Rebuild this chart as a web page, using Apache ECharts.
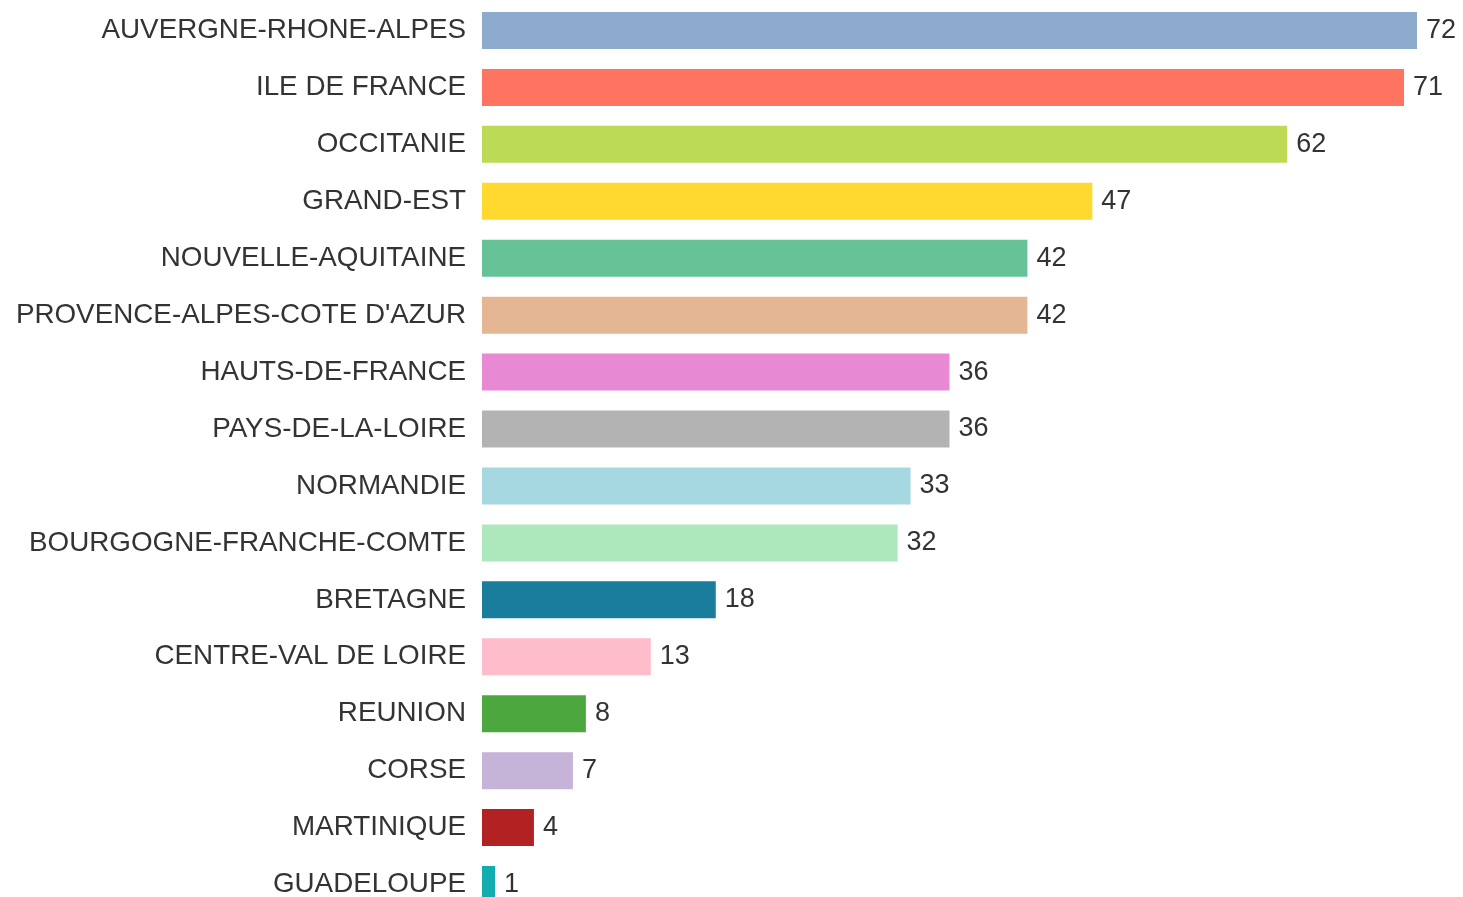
<!DOCTYPE html>
<html>
<head>
<meta charset="utf-8">
<script src="https://cdn.jsdelivr.net/npm/echarts@6/dist/echarts.min.js"></script>
<style>
  html, body { margin: 0; padding: 0; background: #fff; }
  #chart { width: 1463px; height: 897px; }
</style>
</head>
<body>
<div id="chart"></div>
<script>
var regions = [
  'AUVERGNE-RHONE-ALPES', 'ILE DE FRANCE', 'OCCITANIE', 'GRAND-EST',
  'NOUVELLE-AQUITAINE', "PROVENCE-ALPES-COTE D'AZUR", 'HAUTS-DE-FRANCE',
  'PAYS-DE-LA-LOIRE', 'NORMANDIE', 'BOURGOGNE-FRANCHE-COMTE', 'BRETAGNE',
  'CENTRE-VAL DE LOIRE', 'REUNION', 'CORSE', 'MARTINIQUE', 'GUADELOUPE'
]
var counts = [72, 71, 62, 47, 42, 42, 36, 36, 33, 32, 18, 13, 8, 7, 4, 1]
var colors = [
  '#8DACCD', '#FF7361', '#BCDA55', '#FFD92F', '#66C397', '#E5B694',
  '#E78AD3', '#B3B3B3', '#A6D8E1', '#ADE8BD', '#1A7D9B', '#FFBDCB',
  '#4DA73F', '#C6B3D8', '#B22222', '#13ADAF'
]

var myChart = echarts.init(document.getElementById('chart'))
var option = {
  animation: false,
  grid: {
    left: 482,
    right: 46,
    top: 2,
    height: 911,
    outerBoundsMode: 'none'
  },
  xAxis: {
    type: 'value',
    min: 0,
    max: 72,
    show: false
  },
  yAxis: {
    type: 'category',
    inverse: true,
    data: regions,
    axisLine: { show: false },
    axisTick: { show: false },
    axisLabel: {
      margin: 16,
      fontFamily: 'Liberation Sans',
      fontSize: 27.8,
      color: '#333333'
    }
  },
  series: [{
    type: 'bar',
    barCategoryGap: '35%',
    data: counts.map(function (v, i) {
      return { value: v, itemStyle: { color: colors[i] } }
    }),
    label: {
      show: true,
      position: 'right',
      distance: 9,
      fontFamily: 'Liberation Sans',
      fontSize: 27,
      color: '#333333'
    }
  }]
}
myChart.setOption(option)
</script>
</body>
</html>
